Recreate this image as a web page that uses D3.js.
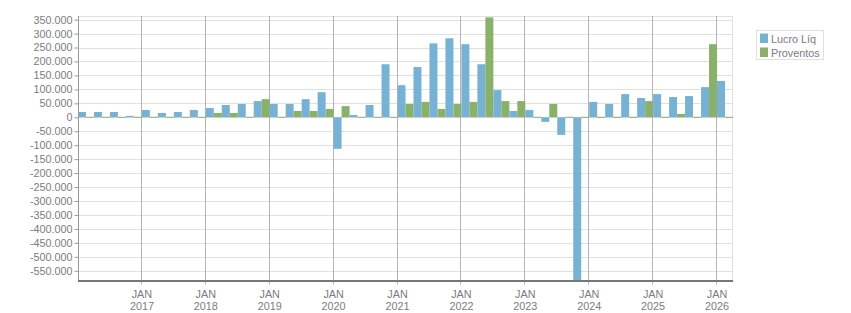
<!DOCTYPE html>
<html>
<head>
<meta charset="utf-8">
<script src="https://cdn.jsdelivr.net/npm/d3@7"></script>
<style>
  html, body { margin: 0; padding: 0; background: #fff; }
  svg { display: block; }
  text { font-family: "Liberation Sans", Arial, sans-serif; font-size: 10.8px; fill: #7a7a84; }
</style>
</head>
<body>
<svg id="chart" width="851" height="313"></svg>
<script>
// ---- data ----
const quarters = [
  "2016Q1","2016Q2","2016Q3","2016Q4",
  "2017Q1","2017Q2","2017Q3","2017Q4",
  "2018Q1","2018Q2","2018Q3","2018Q4",
  "2019Q1","2019Q2","2019Q3","2019Q4",
  "2020Q1","2020Q2","2020Q3","2020Q4",
  "2021Q1","2021Q2","2021Q3","2021Q4",
  "2022Q1","2022Q2","2022Q3","2022Q4",
  "2023Q1","2023Q2","2023Q3","2023Q4",
  "2024Q1","2024Q2","2024Q3","2024Q4",
  "2025Q1","2025Q2","2025Q3","2025Q4",
  "2026Q1"
];
const lucroLiq = [
  19000, 19000, 19000, 5000,
  26000, 15500, 19000, 26000,
  33000, 44000, 47500, 58000,
  47500, 47500, 65000, 90000,
  -113000, 8000, 44000, 190000,
  115000, 180000, 265000, 283000,
  262000, 190000, 97500, 22500,
  26000, -16500, -63000, -620000,
  55000, 47500, 83000, 69000,
  83000, 72500, 76000, 108000,
  130000
];
const proventos = [
  0, 0, 0, 0,
  0, 0, 0, 0,
  15500, 15500, 0, 65000,
  0, 22500, 22500, 30000,
  40000, 0, 0, 0,
  47500, 55000, 30000, 47500,
  55000, 358000, 58000, 58000,
  0, 47500, 0, 0,
  0, 0, 0, 58000,
  0, 12000, 0, 262000,
  0
];
const seriesNames = ["Lucro Líq", "Proventos"];
const seriesColors = ["#77b2d5", "#8ab16a"];
const yearTicks = ["2017","2018","2019","2020","2021","2022","2023","2024","2025","2026"];
const yTicks = [350000,300000,250000,200000,150000,100000,50000,0,-50000,-100000,-150000,-200000,-250000,-300000,-350000,-400000,-450000,-500000,-550000];

// ---- layout ----
const pL = 78, pR = 733, pT = 16, pB = 280.5;
const svg = d3.select("#chart");

const x = d3.scaleBand().domain(quarters).range([pL, pR]).padding(0);
const xs = d3.scaleBand().domain(seriesNames).range([0, x.bandwidth()]).padding(0);
const y = d3.scaleLinear().domain([-585000, 363000]).range([pB, pT]);

const loc = d3.formatLocale({decimal: ",", thousands: ".", grouping: [3], currency: ["", ""], minus: "-"});
const fmt = loc.format(",d");

// clip
svg.append("defs").append("clipPath").attr("id", "plotclip")
  .append("rect").attr("x", pL).attr("y", pT).attr("width", pR - pL).attr("height", pB - pT);

// horizontal grid
svg.append("g").selectAll("line").data(yTicks).join("line")
  .attr("x1", pL).attr("x2", pR)
  .attr("y1", d => Math.round(y(d)) + 0.5).attr("y2", d => Math.round(y(d)) + 0.5)
  .attr("stroke", "#e0e0e0").attr("stroke-width", 1);

// frame top & right
svg.append("line").attr("x1", pL).attr("x2", pR).attr("y1", pT + 0.5).attr("y2", pT + 0.5)
  .attr("stroke", "#e0e0e0");
svg.append("line").attr("x1", pR - 0.5).attr("x2", pR - 0.5).attr("y1", pT).attr("y2", pB)
  .attr("stroke", "#e0e0e0");

// vertical year grid
const yearX = yr => x(yr + "Q1");
svg.append("g").selectAll("line").data(yearTicks).join("line")
  .attr("x1", d => Math.round(yearX(d)) - 0.5).attr("x2", d => Math.round(yearX(d)) - 0.5)
  .attr("y1", pT).attr("y2", pB + 4)
  .attr("stroke", "#b4b4b4").attr("stroke-width", 1);

// bars
const rows = quarters.map((q, i) => ({q, vals: [lucroLiq[i], proventos[i]]}));
const barsG = svg.append("g").attr("clip-path", "url(#plotclip)");
rows.forEach(r => {
  r.vals.forEach((v, si) => {
    const y0 = y(0), y1 = y(v);
    let h = Math.abs(y1 - y0);
    let yy = Math.min(y0, y1);
    if (h < 1) { h = 1; yy = y0 - 0.5; }
    barsG.append("rect")
      .attr("x", x(r.q) + xs(seriesNames[si]))
      .attr("y", yy)
      .attr("width", xs.bandwidth())
      .attr("height", h)
      .attr("fill", seriesColors[si]);
  });
});

// left axis
const yAxisG = svg.append("g").attr("transform", `translate(${pL + 0.5},0)`)
  .call(d3.axisLeft(y).tickValues(yTicks).tickFormat(fmt).tickSize(4).tickPadding(2));
yAxisG.select(".domain").attr("stroke", "#999").attr("d", `M0,${pT}V${pB}`);
yAxisG.selectAll(".tick line").attr("stroke", "#999");
yAxisG.selectAll(".tick text").attr("fill", "#7a7a84").attr("font-size", "10.8px")
  .attr("font-family", "Liberation Sans, Arial, sans-serif");

// bottom axis line
svg.append("line").attr("x1", pL).attr("x2", pR).attr("y1", pB + 0.5).attr("y2", pB + 0.5)
  .attr("stroke", "#777").attr("stroke-width", 2);

// x labels
const xl = svg.append("g").selectAll("text").data(yearTicks).join("text")
  .attr("text-anchor", "middle")
  .attr("x", d => yearX(d));
xl.append("tspan").attr("x", d => yearX(d)).attr("y", 297.5).text("JAN");
xl.append("tspan").attr("x", d => yearX(d)).attr("y", 310).text(d => d);

// legend
const lg = svg.append("g");
lg.append("rect").attr("x", 756.5).attr("y", 30.5).attr("width", 67).attr("height", 29)
  .attr("fill", "#fff").attr("stroke", "#e0e0e0");
seriesNames.forEach((n, i) => {
  lg.append("rect").attr("x", 760).attr("y", 33.5 + i * 14).attr("width", 8).attr("height", 9.5)
    .attr("fill", seriesColors[i]);
  lg.append("text").attr("x", 771).attr("y", 43 + i * 13.5).text(n);
});
</script>
</body>
</html>
